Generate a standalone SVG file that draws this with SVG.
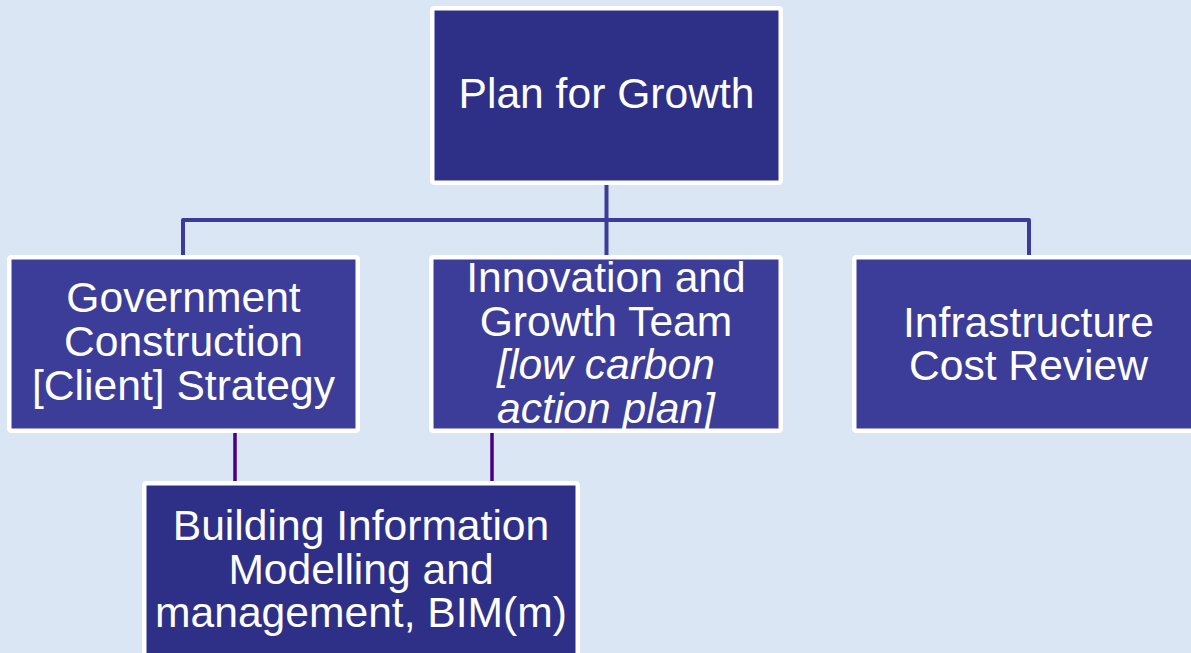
<svg xmlns="http://www.w3.org/2000/svg" width="1191" height="653" viewBox="0 0 1191 653">
<style>
.box{stroke:#FFFFFF;stroke-width:4.5}
.dark{fill:#2E3088}
.mid{fill:#3C3C99}
.t{font-family:"Liberation Sans",Arial,sans-serif;font-size:42.6px;fill:#FFFFFF;text-anchor:middle}
.i{font-style:italic}
.conn{fill:none;stroke:#3B3B9B;stroke-width:4;stroke-linejoin:round}
.conn2{fill:none;stroke:#4B0082;stroke-width:3.5}
</style>
<rect width="1191" height="653" fill="#DBE6F5"/>
<g id="connectors">
<path class="conn" d="M606.5 185 V220 M183 255 V220 H1029 V255 M606.5 220 V255"/>
<path class="conn2" d="M235 433 V481 M492 433 V481"/>
</g>
<g id="plan-for-growth">
<rect class="box dark" x="432.25" y="8.25" width="348.5" height="174.5" rx="2"/>
<text class="t" x="606.5" y="108">Plan for Growth</text>
</g>
<g id="government-construction">
<rect class="box mid" x="9.25" y="257.25" width="348.5" height="173.5" rx="2"/>
<text class="t" x="183.5" y="312">Government</text>
<text class="t" x="183.5" y="356">Construction</text>
<text class="t" x="183.5" y="400">[Client] Strategy</text>
</g>
<g id="innovation-growth">
<rect class="box mid" x="431.25" y="257.25" width="349.5" height="173.5" rx="2"/>
<text class="t" x="606" y="292">Innovation and</text>
<text class="t" x="606" y="335.5">Growth Team</text>
<text class="t i" x="606" y="379">[low carbon</text>
<text class="t i" x="606" y="422.5">action plan]</text>
</g>
<g id="infrastructure-cost">
<rect class="box mid" x="854.25" y="257.25" width="349" height="173.5" rx="2"/>
<text class="t" x="1028.5" y="336.5">Infrastructure</text>
<text class="t" x="1028.5" y="380">Cost Review</text>
</g>
<g id="bim">
<rect class="box dark" x="144.25" y="483.25" width="433.5" height="180" rx="2"/>
<text class="t" x="361" y="540">Building Information</text>
<text class="t" x="361" y="583.5">Modelling and</text>
<text class="t" x="361" y="627">management, BIM(m)</text>
</g>
</svg>
